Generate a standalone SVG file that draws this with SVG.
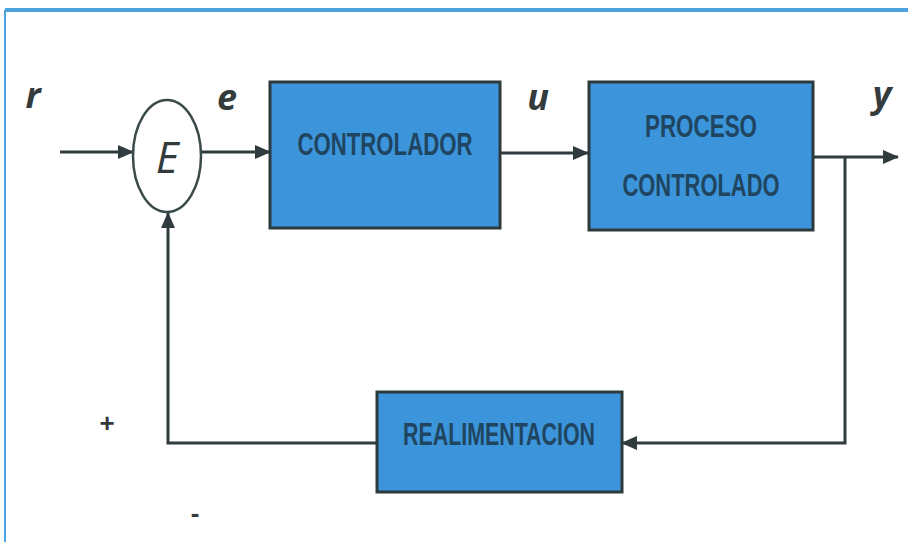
<svg xmlns="http://www.w3.org/2000/svg" width="908" height="542" viewBox="0 0 908 542">
<defs>
<marker id="arr" viewBox="0 0 16 14" refX="15" refY="7" markerWidth="16" markerHeight="14" markerUnits="userSpaceOnUse" orient="auto">
<path d="M0,0 L16,7 L0,14 z" fill="#2f3b3d"/>
</marker>
<style>
.frame{stroke:#4aa3dc;fill:none}
.box{fill:#3c95db;stroke:#2c3a3e;stroke-width:3}
.lbl{font-family:"Liberation Sans",Arial,sans-serif;font-weight:bold;font-size:31px;fill:#1f4560;text-anchor:middle}
.var{font-family:"Open Sans","DejaVu Sans",sans-serif;font-style:italic;font-weight:bold;font-size:36px;fill:#333b3d;text-anchor:middle}
.wire{stroke:#2f3b3d;stroke-width:3;fill:none}
.sign{font-family:"Liberation Sans",Arial,sans-serif;font-weight:bold;font-size:26px;fill:#333b3d;text-anchor:middle}
</style>
</defs>
<rect width="908" height="542" fill="#ffffff"/>
<line class="frame" x1="5" y1="10" x2="908" y2="10" stroke-width="4"/>
<line class="frame" x1="5" y1="10" x2="5" y2="542" stroke-width="2"/>

<g id="connectors">
<line class="wire" x1="60" y1="152" x2="133" y2="152" marker-end="url(#arr)"/>
<line class="wire" x1="201" y1="152" x2="270" y2="152" marker-end="url(#arr)"/>
<line class="wire" x1="500" y1="153" x2="588" y2="153" marker-end="url(#arr)"/>
<line class="wire" x1="813" y1="157" x2="898" y2="157" marker-end="url(#arr)"/>
<polyline class="wire" points="845,157 845,443 622,443" marker-end="url(#arr)"/>
<polyline class="wire" points="377,443 168,443 168,213" marker-end="url(#arr)"/>
</g>

<g id="sum">
<ellipse cx="167" cy="156" rx="34" ry="56" fill="#ffffff" stroke="#3a4a4a" stroke-width="2.5"/>
<text x="167" y="173" font-family="'Open Sans','Liberation Sans',sans-serif" font-style="italic" font-size="44" fill="#333b3d" text-anchor="middle">E</text>
</g>

<g id="controlador">
<rect class="box" x="270" y="82" width="230" height="146"/>
<text class="lbl" x="385" y="155" textLength="175" lengthAdjust="spacingAndGlyphs">CONTROLADOR</text>
</g>

<g id="proceso">
<rect class="box" x="589" y="82" width="224" height="148"/>
<text class="lbl" x="701" y="137" textLength="112" lengthAdjust="spacingAndGlyphs">PROCESO</text>
<text class="lbl" x="701" y="196" textLength="157" lengthAdjust="spacingAndGlyphs">CONTROLADO</text>
</g>

<g id="realimentacion">
<rect class="box" x="377" y="392" width="245" height="100"/>
<text class="lbl" x="499" y="445" textLength="192" lengthAdjust="spacingAndGlyphs">REALIMENTACION</text>
</g>

<g id="labels">
<text class="var" x="33" y="108">r</text>
<text class="var" x="227" y="110">e</text>
<text class="var" x="538" y="110">u</text>
<text class="var" x="882" y="107">y</text>
<text class="sign" x="107" y="432">+</text>
<text class="sign" x="195" y="522">-</text>
</g>
</svg>
